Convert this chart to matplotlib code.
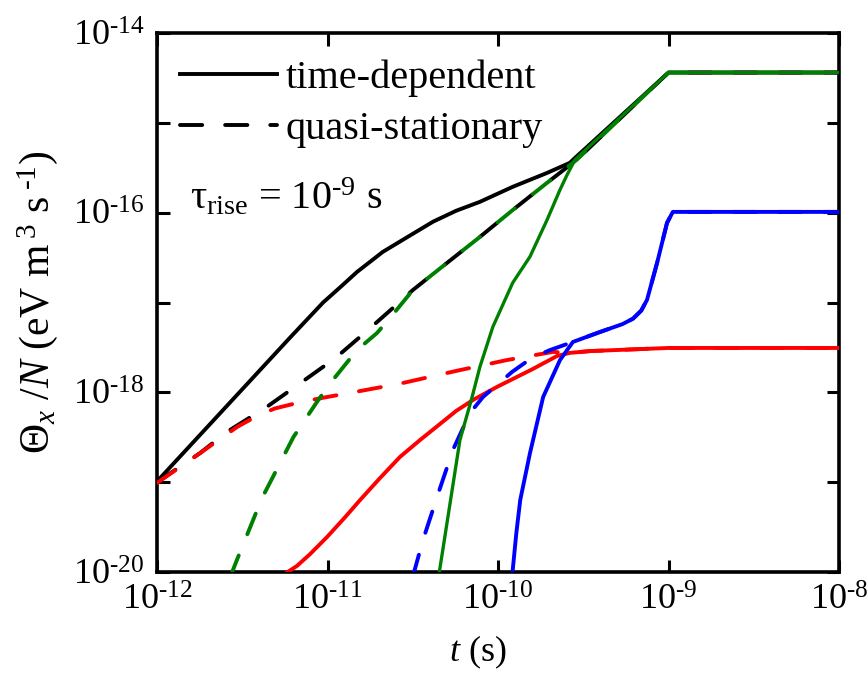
import numpy as np
from matplotlib import pyplot as plt

plt.rcParams['font.family'] = ['Liberation Serif', 'DejaVu Serif']
plt.rcParams['mathtext.fontset'] = 'custom'
plt.rcParams['mathtext.rm'] = 'Liberation Serif'
plt.rcParams['mathtext.it'] = 'Liberation Serif:italic'
plt.rcParams['lines.scale_dashes'] = False

# time-dependent (solid) and quasi-stationary (dashed)
t_total_td = [1.0e-12, 6.03e-12, 9.42e-12, 1.22e-11, 1.49e-11, 2.11e-11, 2.95e-11,
              4.16e-11, 5.68e-11, 7.83e-11, 1.22e-10, 1.94e-10, 2.64e-10, 2.83e-10,
              1.0e-9, 1.0e-8]
th_total_td = [1.02e-19, 4.07e-18, 1.0e-17, 1.55e-17, 2.19e-17, 3.66e-17, 5.37e-17,
               7.94e-17, 1.05e-16, 1.32e-16, 1.94e-16, 2.77e-16, 3.59e-16, 4.07e-16,
               3.63e-15, 3.63e-15]

t_total_qs = [1.0e-12, 1.79e-12, 2.57e-12, 4.42e-12, 6.90e-12, 1.11e-11, 1.73e-11,
              2.66e-11, 3.17e-11, 5.01e-11, 7.83e-11, 1.22e-10, 1.94e-10, 2.90e-10,
              1.0e-9, 1.0e-8]
th_total_qs = [1.0e-19, 2.11e-19, 3.63e-19, 6.92e-19, 1.26e-18, 2.40e-18, 4.95e-18,
               1.02e-17, 1.38e-17, 2.75e-17, 5.37e-17, 1.07e-16, 2.15e-16, 3.89e-16,
               3.63e-15, 3.63e-15]

t_red_td = [5.48e-12, 6.62e-12, 7.89e-12, 9.93e-12, 1.27e-11, 1.55e-11, 2.03e-11,
            2.66e-11, 3.49e-11, 4.57e-11, 5.68e-11, 7.13e-11, 9.86e-11, 1.60e-10,
            2.22e-10, 2.64e-10, 3.47e-10, 1.0e-9, 1.0e-8]
th_red_td = [9.26e-21, 1.17e-20, 1.58e-20, 2.45e-20, 4.09e-20, 6.31e-20, 1.11e-19,
             1.91e-19, 2.95e-19, 4.45e-19, 6.21e-19, 8.22e-19, 1.15e-18, 1.82e-18,
             2.54e-18, 2.75e-18, 2.88e-18, 3.12e-18, 3.12e-18]

t_red_qs = [1.0e-12, 1.79e-12, 2.95e-12, 3.80e-12, 4.90e-12, 6.90e-12, 9.42e-12,
            1.71e-11, 2.66e-11, 5.75e-11, 1.13e-10, 2.10e-10, 2.64e-10, 3.47e-10,
            1.0e-9, 1.0e-8]
th_red_qs = [9.8e-20, 2.11e-19, 4.12e-19, 5.37e-19, 6.61e-19, 7.76e-19, 8.71e-19,
             1.07e-18, 1.25e-18, 1.74e-18, 2.29e-18, 2.82e-18, 2.75e-18, 2.88e-18,
             3.12e-18, 3.12e-18]

t_blue_td = [1.21e-10, 1.28e-10, 1.35e-10, 1.54e-10, 1.84e-10, 2.31e-10, 2.75e-10,
             3.98e-10, 5.37e-10, 6.19e-10, 6.92e-10, 7.48e-10, 8.57e-10, 9.80e-10,
             1.06e-9, 1.0e-8]
th_blue_td = [9.0e-21, 2.69e-20, 6.34e-20, 2.11e-19, 8.89e-19, 2.29e-18, 3.64e-18,
              4.71e-18, 5.75e-18, 6.61e-18, 8.13e-18, 1.07e-17, 2.76e-17, 7.69e-17,
              1.02e-16, 1.02e-16]

t_blue_qs = [3.17e-11, 3.63e-11, 4.39e-11, 5.44e-11, 6.85e-11, 8.17e-11, 1.21e-10,
             1.58e-10, 2.02e-10, 2.75e-10, 3.98e-10, 5.37e-10, 6.19e-10, 6.92e-10,
             7.48e-10, 8.57e-10, 9.80e-10, 1.06e-9, 1.0e-8]
th_blue_qs = [9.0e-21, 2.27e-20, 6.84e-20, 2.29e-19, 5.90e-19, 8.89e-19, 1.69e-18,
              2.42e-18, 2.96e-18, 3.64e-18, 4.71e-18, 5.75e-18, 6.61e-18, 8.13e-18,
              1.07e-17, 2.76e-17, 7.69e-17, 1.02e-16, 1.02e-16]

t_green_td = [4.45e-11, 5.98e-11, 7.03e-11, 7.83e-11, 9.33e-11, 1.22e-10, 1.54e-10,
              1.94e-10, 2.31e-10, 2.54e-10, 2.83e-10, 1.0e-9, 1.0e-8]
th_green_td = [8.1e-21, 2.95e-19, 8.71e-19, 1.92e-18, 5.37e-18, 1.66e-17, 3.24e-17,
               8.32e-17, 1.80e-16, 2.63e-16, 3.89e-16, 3.63e-15, 3.63e-15]

t_green_qs = [2.70e-12, 2.94e-12, 4.13e-12, 4.79e-12, 6.31e-12, 8.67e-12, 1.04e-11,
              1.49e-11, 1.95e-11, 2.33e-11, 3.17e-11, 5.01e-11, 7.83e-11, 1.22e-10,
              1.94e-10, 2.90e-10, 1.0e-9, 1.0e-8]
th_green_qs = [9.0e-21, 1.36e-20, 6.67e-20, 1.15e-19, 3.18e-19, 7.82e-19, 1.27e-18,
               2.96e-18, 4.57e-18, 6.76e-18, 1.38e-17, 2.75e-17, 5.37e-17, 1.07e-16,
               2.15e-16, 3.89e-16, 3.63e-15, 3.63e-15]

x_ticks = [1e-12, 1e-11, 1e-10, 1e-9, 1e-8]
x_ticklabels = [r'$10^{\text{-}12}$', r'$10^{\text{-}11}$', r'$10^{\text{-}10}$',
                r'$10^{\text{-}9}$', r'$10^{\text{-}8}$']
y_ticks = [1e-20, 1e-19, 1e-18, 1e-17, 1e-16, 1e-15, 1e-14]
y_ticklabels = [r'$10^{\text{-}20}$', '', r'$10^{\text{-}18}$', '',
                r'$10^{\text{-}16}$', '', r'$10^{\text{-}14}$']

LW = 2.8
DASH = (0, (16, 16.5))

fig = plt.figure(figsize=(8.68, 6.76), dpi=100)
ax = fig.add_axes([0.1809, 0.1538, 0.7857, 0.7974])

ax.plot(t_total_td, th_total_td, color='black', lw=LW, zorder=1, label='time-dependent')
ax.plot(t_total_qs, th_total_qs, color='black', lw=LW, ls=DASH, dash_capstyle='round',
        zorder=2, label='quasi-stationary')
ax.plot(t_red_qs, th_red_qs, color='red', lw=LW, ls=DASH, dash_capstyle='round', zorder=3)
ax.plot(t_red_td, th_red_td, color='red', lw=LW, zorder=4)
ax.plot(t_blue_qs, th_blue_qs, color='blue', lw=LW, ls=DASH, dash_capstyle='round', zorder=5)
ax.plot(t_blue_td, th_blue_td, color='blue', lw=LW, zorder=6)
ax.plot(t_green_qs, th_green_qs, color='green', lw=LW, ls=DASH, dash_capstyle='round', zorder=7)
ax.plot(t_green_td, th_green_td, color='green', lw=LW * 0.85, zorder=8)

ax.set_xscale('log')
ax.set_yscale('log')
ax.set_xlim(1e-12, 1e-8)
ax.set_ylim(1e-20, 1e-14)
ax.set_xticks(x_ticks, x_ticklabels)
ax.set_yticks(y_ticks, y_ticklabels)
ax.minorticks_off()
ax.tick_params(which='both', direction='in', top=True, right=True,
               length=9, width=2.2, labelsize=26, pad=9)
for sp in ax.spines.values():
    sp.set_linewidth(2.6)

ax.set_xlabel(r'$t$ (s)', fontsize=26)
ax.xaxis.set_label_coords(0.47, -0.115)
ax.set_ylabel(r'$\Theta_x$ /$N$ (eV m$^{\;3}$ s$^{\;\text{-}1}$)', fontsize=30)
ax.yaxis.set_label_coords(-0.142, 0.5)

ax.text(0.048, 0.672, r'τ$_{\mathrm{rise}}$ = 10$^{\text{-}9}$ s', transform=ax.transAxes,
        fontsize=29, va='baseline', ha='left')

ax.legend(loc='upper left', bbox_to_anchor=(0.034, 0.95), frameon=False, fontsize=29,
          handlelength=2.4, handletextpad=0.22, labelspacing=0.33, borderpad=0,
          borderaxespad=0)

plt.savefig('out.png', dpi=100)
